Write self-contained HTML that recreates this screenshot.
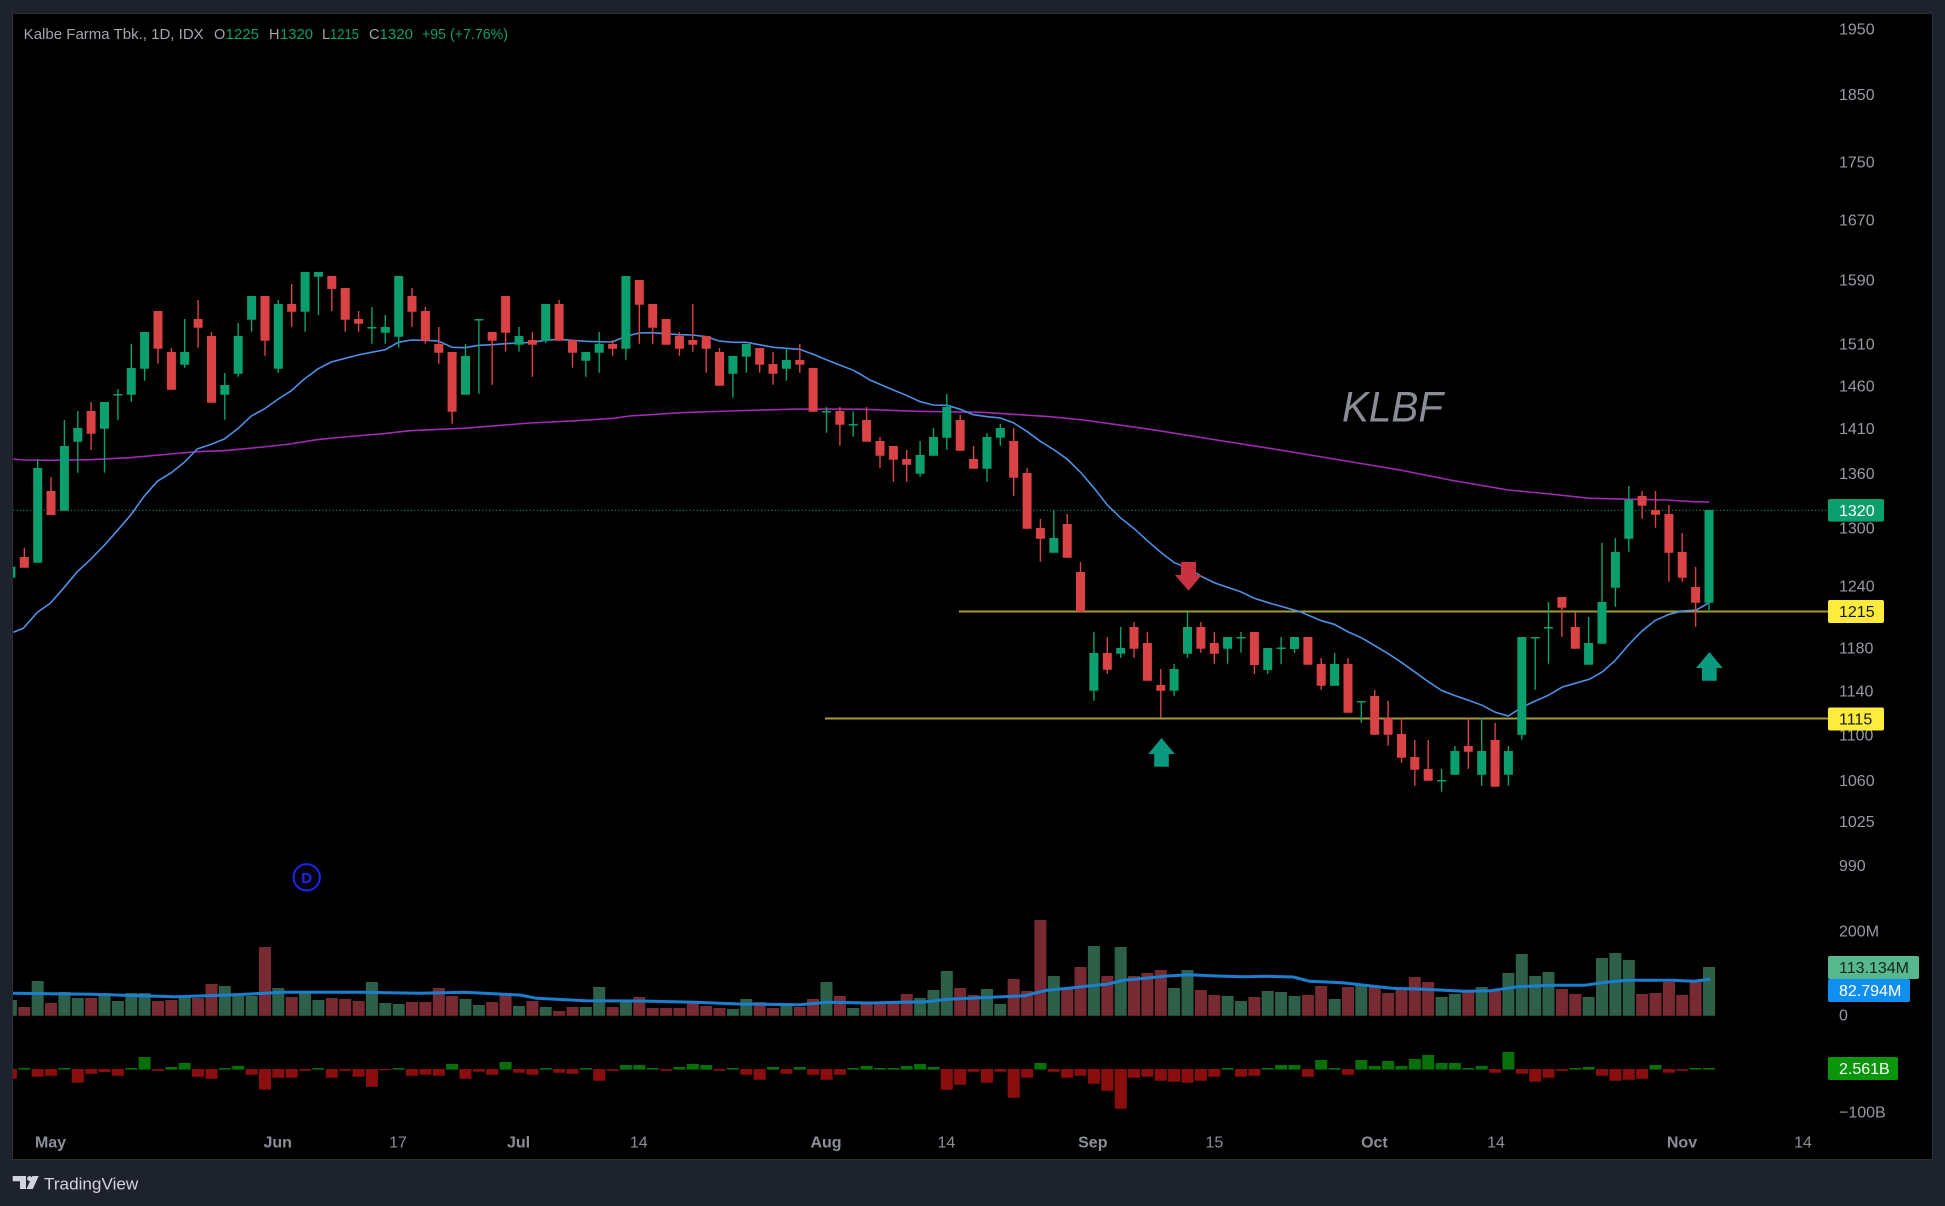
<!DOCTYPE html>
<html><head><meta charset="utf-8"><style>
html,body{margin:0;padding:0;background:#1e222d;}
svg{display:block;}
text{font-family:"Liberation Sans",sans-serif;}
</style></head><body>
<svg width="1945" height="1206" viewBox="0 0 1945 1206" xmlns="http://www.w3.org/2000/svg">
<defs><clipPath id="cp"><rect x="13" y="14" width="1919" height="1145"/></clipPath></defs>
<rect x="0" y="0" width="1945" height="1206" fill="#1e222d"/>
<rect x="12.5" y="13.5" width="1920" height="1146" fill="#000" stroke="#2a2e39" stroke-width="1"/>

<!-- title -->
<g font-size="14.5" fill="#a3a6ad">
<text x="23.7" y="39" textLength="180" lengthAdjust="spacingAndGlyphs">Kalbe Farma Tbk., 1D, IDX</text>
<text x="214" y="39">O</text><text x="225.5" y="39" fill="#0b9e6e" textLength="33.5" lengthAdjust="spacingAndGlyphs">1225</text>
<text x="269" y="39">H</text><text x="280" y="39" fill="#0b9e6e" textLength="33" lengthAdjust="spacingAndGlyphs">1320</text>
<text x="322" y="39">L</text><text x="330" y="39" fill="#0b9e6e" textLength="29" lengthAdjust="spacingAndGlyphs">1215</text>
<text x="369" y="39">C</text><text x="379.5" y="39" fill="#0b9e6e" textLength="33.5" lengthAdjust="spacingAndGlyphs">1320</text>
<text x="422" y="39" fill="#0b9e6e" textLength="86" lengthAdjust="spacingAndGlyphs">+95 (+7.76%)</text>
</g>

<!-- watermark -->
<text x="1342" y="421.7" font-size="43" font-style="italic" fill="#8a8d96" textLength="101" lengthAdjust="spacingAndGlyphs">KLBF</text>

<g clip-path="url(#cp)">
<!-- 1320 dotted -->
<line x1="13" y1="510.3" x2="1828" y2="510.3" stroke="#0b9e6e" stroke-width="1" stroke-dasharray="1.2 2.2"/>
<!-- yellow lines -->
<line x1="959" y1="611.5" x2="1828" y2="611.5" stroke="#a59b2e" stroke-width="2"/>
<line x1="825" y1="718.5" x2="1828" y2="718.5" stroke="#a59b2e" stroke-width="2"/>

<!-- purple MA -->
<polyline fill="none" stroke="#a12ab5" stroke-width="1.6" points="13.3,459 23.3,460 53.3,460.3 90,459.7 130,457.7 170,454 196.7,451.7 223.3,450.7 263.3,447 290,444 316.7,439.7 343.3,437 383.3,433.7 410,430.7 440,429.3 463.3,428.3 530,423 576.7,420.7 613.3,418.3 630,416 680,412.7 730,411 796.7,409 860,409.2 916.7,411.3 983.3,412.3 1050,416.7 1083.3,420 1150,429.3 1216.7,440 1280,450 1340,460 1400,470 1450,480 1508.3,490 1550,494 1590,498.3 1633.3,499.3 1666.7,500 1693.3,501.7 1709.3,502"/>
<!-- blue MA -->
<polyline fill="none" stroke="#4f8fe6" stroke-width="1.6" points="13.3,632.3 23.3,628.3 37.3,612.3 50.3,603.3 64.3,587.3 77.3,571.7 90.3,559.7 104.3,545.3 117.3,530.7 131.3,514.3 144.3,496 157.3,481.3 171.3,472.7 184.3,462.3 197.3,449 211.3,444.3 224.3,439 238.3,428.3 251.3,416 264.3,409 278.3,399 291.3,390.7 304.3,379 318.3,368.7 331.3,362 345.3,358.3 358.3,355 371.3,352.3 385.3,349.7 398.3,342.3 411.3,340 425.3,340.3 438.3,341 452.3,347.3 465.3,347.7 478.3,345.3 492.3,344.7 505.3,343.7 518.3,343 532.3,342.3 545.3,340.3 559.3,339.3 572.3,340.3 585.3,341.3 599.3,341.7 612.3,342 626.3,336 639.3,333 652.3,332.7 666.3,333.7 679.3,334.7 692.3,335 706.3,336.7 719.3,341 733.3,342.3 746.3,342.3 759.3,344.7 773.3,347.3 786.3,348.3 799.3,349.3 813.3,354.3 826.3,359.7 840.3,365.3 853.3,370.3 860,374 870,380 893.3,390 906.3,395.3 920.3,401.7 933.3,405 947.3,405.3 960.3,409.3 973.3,414.7 987.3,416.7 1000.3,418 1013.3,422.7 1027.3,431.7 1040.3,441.3 1054.3,450 1067.3,459.3 1080.3,472 1094.3,488.3 1107.3,505 1120.3,517.7 1134.3,528.7 1147.3,540.7 1161.3,552.7 1174.3,562.7 1187.3,567.7 1201.3,576.3 1214.3,582.7 1227.3,587.3 1241.3,592 1254.3,598.3 1268.3,602.7 1280,606 1300,611.7 1321.3,620.7 1334.3,624.3 1348.3,632 1361.3,637.7 1375.3,646 1388.3,653.7 1401.3,662.3 1415.3,672.3 1428.3,681.7 1441.3,690.3 1455.3,695.7 1468.3,700.3 1482.3,705.3 1495.3,712.3 1508.3,716 1522.3,707 1535.3,701 1548.3,695.3 1562.3,687 1575.3,683.3 1589.3,679.3 1602.3,672 1615.3,660.3 1629.3,644 1642.3,630.7 1655.3,620.3 1669.3,614.3 1682.3,611 1696.3,610 1709.3,602.7"/>

<!-- green wicks -->
<path fill="none" stroke="#0b9e6e" stroke-width="1.4" d="M10.9 560V578M37.7 459.3V562.7M64.4 420V510.7M77.8 411V472.7M104.5 402V472.7M117.9 389V420M131.3 344V401.7M144.6 332V380.7M184.7 319V367.7M224.8 373V419.7M238.2 323V376.7M251.6 296V331.7M278.3 300V372.7M305.1 272V331.7M318.4 272V315M371.9 307V343.7M385.3 315V343.7M398.7 276V347.7M465.5 344V394.7M478.9 319.3V393.7M519 327V351.7M545.7 304V343.3M585.8 352V376.7M599.2 332V372.7M625.9 276V359.7M732.9 356V397.7M746.3 344V372.7M786.4 348V380.7M826.5 407V432.7M853.2 411V436.7M920.1 441V476.7M933.5 428V455.7M946.8 394V449.7M987 433V481.7M1000.3 424V445.7M1053.8 510V552.7M1093.9 632V700.7M1120.7 627V657.7M1174.1 664V695.7M1187.5 612V657.7M1227.6 637V663.7M1241 632V652.7M1267.7 648V674M1281.1 637V664M1294.5 637V653M1334.6 653V685.7M1361.3 701V722.7M1441.6 769V791.7M1454.9 746V774.7M1481.7 718V785.7M1508.4 746V785.7M1521.8 637V739.7M1535.2 637V689.7M1548.5 602V663.7M1588.6 617V664.7M1602 543V643.7M1615.4 538V606.7M1628.8 486V551.7M1709 510V611.7"/>
<!-- green bodies -->
<path fill="#0b9e6e" d="M6.4 566.7h9V577.7h-9zM33.2 468h9V562.7h-9zM59.9 446h9V510.7h-9zM73.3 428h9V441.7h-9zM100 402h9V428.7h-9zM113.4 394h9V395.5h-9zM126.8 368h9V394.7h-9zM140.1 332h9V368.7h-9zM180.2 352h9V364.7h-9zM220.3 385h9V394.7h-9zM233.7 336h9V373.7h-9zM247.1 296h9V319.7h-9zM273.8 304h9V368.7h-9zM300.6 272h9V311.7h-9zM313.9 272h9V276.7h-9zM367.4 327h9V328.5h-9zM380.8 327h9V332.7h-9zM394.2 276h9V336.7h-9zM461 356h9V394.7h-9zM474.4 319h9V320.5h-9zM514.5 336h9V344.7h-9zM541.2 304h9V340.7h-9zM581.3 352h9V360.7h-9zM594.7 344h9V352.7h-9zM621.4 276h9V348.7h-9zM728.4 356h9V373.7h-9zM741.8 344h9V356.7h-9zM781.9 360h9V368.7h-9zM822 411h9V412.5h-9zM848.7 424h9V425.5h-9zM915.6 455h9V473.7h-9zM929 437h9V455.7h-9zM942.3 407h9V437.7h-9zM982.5 437h9V468.7h-9zM995.8 428h9V437.7h-9zM1049.3 538h9V552.7h-9zM1089.4 653h9V690.7h-9zM1116.2 648h9V653.7h-9zM1169.6 669h9V690.7h-9zM1183 627h9V653.7h-9zM1223.1 637h9V648.7h-9zM1236.5 637h9V638.5h-9zM1263.2 648h9V670h-9zM1276.6 647.5h9V649h-9zM1290 637h9V649h-9zM1330.1 664h9V685.7h-9zM1356.8 701h9V702.5h-9zM1437.1 780h9V781.5h-9zM1450.4 751h9V774.7h-9zM1477.2 751h9V774.7h-9zM1503.9 751h9V774.7h-9zM1517.3 637h9V734.7h-9zM1530.7 637h9V638.5h-9zM1544 627h9V628.5h-9zM1584.1 643h9V664.7h-9zM1597.5 602h9V643.7h-9zM1610.9 552h9V587.7h-9zM1624.3 500h9V538.7h-9zM1704.5 510h9V602.7h-9z"/>
<!-- red wicks -->
<path fill="none" stroke="#d94346" stroke-width="1.4" d="M24.3 547.7V567.7M51 477V515M91.1 402V450M158 311V363.7M171.4 348V389.7M198.1 300V347.7M211.5 332V402.7M265 296V355.7M291.7 284V326.7M331.8 276V311M345.2 288V331.7M358.6 311V331.7M412 288V326.7M425.4 307V343.7M438.8 327V363.7M452.1 352V423.7M492.2 332V384.7M505.6 296V351.7M532.4 332V376.7M559.1 300V340.7M572.5 340V367.7M612.6 340V355.7M639.3 280V343.7M652.7 304V343.7M666.1 319V344.7M679.4 332V355.7M692.8 304V351.7M706.2 336V372.7M719.5 348V385.7M759.7 348V372.7M773 352V384.7M799.8 344V372.7M813.1 368V411.7M839.9 407V445.7M866.6 407V441.7M880 437V468M893.4 446V481.7M906.7 450V481.7M960.2 415V450.7M973.6 446V468.7M1013.7 428V495.7M1027.1 468V528.7M1040.4 519V561.7M1067.2 514V557.7M1080.5 562V611.7M1107.3 637V673.7M1134 622V657.7M1147.4 632V680.7M1160.8 669V717.7M1200.9 622V652.7M1214.3 632V663.7M1254.4 632V674M1307.9 637V664.7M1321.2 658V689.7M1348 658V712.7M1374.7 690V734.7M1388.1 701V745.7M1401.5 718V762.7M1414.8 740V785.7M1428.2 740V780.7M1468.3 718V768.7M1495.1 723V786.7M1561.9 597V636.7M1575.3 612V648.7M1642.1 491V518.7M1655.5 491V527.7M1668.9 505V581.7M1682.2 533V581.7M1695.6 567V626.7"/>
<!-- red bodies -->
<path fill="#d94346" d="M19.8 557h9V567.7h-9zM46.5 491h9V515h-9zM86.6 411h9V433.7h-9zM153.5 311h9V348.7h-9zM166.9 352h9V389.7h-9zM193.6 319h9V327.7h-9zM207 336h9V402.7h-9zM260.5 296h9V340.7h-9zM287.2 304h9V311.7h-9zM327.3 276h9V289h-9zM340.7 288h9V319.7h-9zM354.1 319h9V323.7h-9zM407.5 296h9V311.7h-9zM420.9 311h9V340.7h-9zM434.3 344h9V352.7h-9zM447.6 352h9V411.7h-9zM487.7 332h9V340.7h-9zM501.1 296h9V332.7h-9zM527.9 340h9V344.7h-9zM554.6 304h9V340.7h-9zM568 340h9V352.7h-9zM608.1 344h9V348.7h-9zM634.8 280h9V304.7h-9zM648.2 304h9V327.7h-9zM661.6 319h9V344.7h-9zM674.9 336h9V348.7h-9zM688.3 340h9V344.7h-9zM701.7 336h9V348.7h-9zM715 352h9V385.7h-9zM755.2 348h9V364.7h-9zM768.5 364h9V373.7h-9zM795.3 360h9V364.7h-9zM808.6 368h9V411.7h-9zM835.4 411h9V424.7h-9zM862.1 420h9V441.7h-9zM875.5 441h9V455.7h-9zM888.9 446h9V459.7h-9zM902.2 459h9V464.7h-9zM955.7 420h9V450.7h-9zM969.1 459h9V468.7h-9zM1009.2 441h9V477.7h-9zM1022.6 473h9V528.7h-9zM1035.9 528h9V538.7h-9zM1062.7 524h9V557.7h-9zM1076 572h9V611.7h-9zM1102.8 653h9V669.7h-9zM1129.5 627h9V648.7h-9zM1142.9 643h9V680.7h-9zM1156.3 685h9V690.7h-9zM1196.4 627h9V648.7h-9zM1209.8 643h9V653.7h-9zM1249.9 632h9V665h-9zM1303.4 637h9V664.7h-9zM1316.7 664h9V685.7h-9zM1343.5 664h9V712.7h-9zM1370.2 696h9V734.7h-9zM1383.6 718h9V734.7h-9zM1397 734h9V757.7h-9zM1410.3 757h9V769.7h-9zM1423.7 769h9V780.7h-9zM1463.8 746h9V751.7h-9zM1490.6 740h9V786.7h-9zM1557.4 597h9V607.7h-9zM1570.8 627h9V648.7h-9zM1637.6 496h9V505.7h-9zM1651 510h9V514.7h-9zM1664.4 514h9V552.7h-9zM1677.7 552h9V577.7h-9zM1691.1 587h9V602.7h-9z"/>

<!-- arrows -->
<path fill="#c8313f" d="M1181 562H1196V575H1201.7L1188.5 590.7L1175 575H1181Z"/>
<path fill="#0b9a80" d="M1709.4 652L1722.7 668H1716.7V680.7H1702V668H1696Z"/>
<path fill="#0b9a80" d="M1161.5 738L1174.8 754H1168.8V766.7H1154.2V754H1148.2Z"/>

<!-- D marker -->
<circle cx="306.7" cy="877.3" r="13.2" fill="#05050f" stroke="#2222f0" stroke-width="2"/>
<text x="306.7" y="883" font-size="15" font-weight="bold" fill="#2424f2" text-anchor="middle">D</text>

<!-- volume green -->
<path fill="#2e5f48" d="M4.9 1000h12V1015.7h-12zM31.7 981h12V1015.7h-12zM58.4 992h12V1015.7h-12zM71.8 998h12V1015.7h-12zM98.5 993h12V1015.7h-12zM111.9 1001h12V1015.7h-12zM125.3 993h12V1015.7h-12zM138.6 993h12V1015.7h-12zM178.7 996h12V1015.7h-12zM218.8 986h12V1015.7h-12zM232.2 996h12V1015.7h-12zM245.6 996h12V1015.7h-12zM272.3 988h12V1015.7h-12zM299.1 991h12V1015.7h-12zM312.4 1000h12V1015.7h-12zM365.9 982h12V1015.7h-12zM379.3 1003h12V1015.7h-12zM392.7 1004h12V1015.7h-12zM459.5 999h12V1015.7h-12zM472.9 1005h12V1015.7h-12zM513 1006h12V1015.7h-12zM539.7 1007h12V1015.7h-12zM579.8 1007h12V1015.7h-12zM593.2 987h12V1015.7h-12zM619.9 1001h12V1015.7h-12zM726.9 1009h12V1015.7h-12zM740.3 999h12V1015.7h-12zM780.4 1005h12V1015.7h-12zM820.5 982h12V1015.7h-12zM847.2 1008h12V1015.7h-12zM914.1 998h12V1015.7h-12zM927.5 990h12V1015.7h-12zM940.8 971h12V1015.7h-12zM981 989h12V1015.7h-12zM994.3 1004h12V1015.7h-12zM1047.8 976h12V1015.7h-12zM1087.9 946h12V1015.7h-12zM1114.7 947h12V1015.7h-12zM1168.1 988h12V1015.7h-12zM1181.5 970h12V1015.7h-12zM1221.6 996h12V1015.7h-12zM1235 1001h12V1015.7h-12zM1261.7 991h12V1015.7h-12zM1275.1 992h12V1015.7h-12zM1288.5 996h12V1015.7h-12zM1328.6 999h12V1015.7h-12zM1355.3 984h12V1015.7h-12zM1435.6 997h12V1015.7h-12zM1448.9 994h12V1015.7h-12zM1475.7 987h12V1015.7h-12zM1502.4 973h12V1015.7h-12zM1515.8 954h12V1015.7h-12zM1529.2 976h12V1015.7h-12zM1542.5 972h12V1015.7h-12zM1582.6 997h12V1015.7h-12zM1596 958h12V1015.7h-12zM1609.4 953h12V1015.7h-12zM1622.8 960h12V1015.7h-12zM1703 967h12V1015.7h-12z"/>
<!-- volume red -->
<path fill="#782a32" d="M18.3 1007h12V1015.7h-12zM45 1003h12V1015.7h-12zM85.1 998h12V1015.7h-12zM152 1001h12V1015.7h-12zM165.4 1000h12V1015.7h-12zM192.1 998h12V1015.7h-12zM205.5 984h12V1015.7h-12zM259 947h12V1015.7h-12zM285.7 997h12V1015.7h-12zM325.8 998h12V1015.7h-12zM339.2 999h12V1015.7h-12zM352.6 1001h12V1015.7h-12zM406 1002h12V1015.7h-12zM419.4 1002h12V1015.7h-12zM432.8 988h12V1015.7h-12zM446.1 996h12V1015.7h-12zM486.2 1002h12V1015.7h-12zM499.6 995h12V1015.7h-12zM526.4 1001h12V1015.7h-12zM553.1 1011h12V1015.7h-12zM566.5 1007h12V1015.7h-12zM606.6 1007h12V1015.7h-12zM633.3 997h12V1015.7h-12zM646.7 1008h12V1015.7h-12zM660.1 1008h12V1015.7h-12zM673.4 1008h12V1015.7h-12zM686.8 1002h12V1015.7h-12zM700.2 1006h12V1015.7h-12zM713.5 1008h12V1015.7h-12zM753.7 1002h12V1015.7h-12zM767 1008h12V1015.7h-12zM793.8 1007h12V1015.7h-12zM807.1 999h12V1015.7h-12zM833.9 996h12V1015.7h-12zM860.6 1004h12V1015.7h-12zM874 1004h12V1015.7h-12zM887.4 1001h12V1015.7h-12zM900.7 994h12V1015.7h-12zM954.2 988h12V1015.7h-12zM967.6 995h12V1015.7h-12zM1007.7 979h12V1015.7h-12zM1021.1 991h12V1015.7h-12zM1034.4 920h12V1015.7h-12zM1061.2 988h12V1015.7h-12zM1074.5 967h12V1015.7h-12zM1101.3 976h12V1015.7h-12zM1128 976h12V1015.7h-12zM1141.4 973h12V1015.7h-12zM1154.8 970h12V1015.7h-12zM1194.9 990h12V1015.7h-12zM1208.3 995h12V1015.7h-12zM1248.4 997h12V1015.7h-12zM1301.9 995h12V1015.7h-12zM1315.2 986h12V1015.7h-12zM1342 987h12V1015.7h-12zM1368.7 986h12V1015.7h-12zM1382.1 993h12V1015.7h-12zM1395.5 988h12V1015.7h-12zM1408.8 977h12V1015.7h-12zM1422.2 982h12V1015.7h-12zM1462.3 990h12V1015.7h-12zM1489.1 991h12V1015.7h-12zM1555.9 989h12V1015.7h-12zM1569.3 994h12V1015.7h-12zM1636.1 994h12V1015.7h-12zM1649.5 993h12V1015.7h-12zM1662.9 982h12V1015.7h-12zM1676.2 995h12V1015.7h-12zM1689.6 982h12V1015.7h-12z"/>
<!-- volume MA -->
<polyline fill="none" stroke="#1b7fd1" stroke-width="3" stroke-linejoin="round" points="13,993.3 92,994.3 175,996.7 229,995 284,992.3 366.5,992.3 421,993.3 465,992.3 503.6,994.3 520,995 536.5,998.3 586,1000.7 641,1001 695.6,1002.3 739.4,1004 799.8,1004.7 827,1002.3 870,1003 925.8,1001.7 947.8,999.3 991.6,997.3 1024.5,995.7 1046.5,990.3 1068.4,988.3 1090.3,985.7 1106.8,984.3 1123.3,980.3 1145.2,978.3 1167.1,976 1189.1,974.7 1216.5,976 1243.9,976.7 1265.9,976.3 1293.3,977 1309.7,981.3 1342.6,982.7 1364.6,985.3 1392,988.3 1424.9,989.3 1463.3,991.3 1490.7,990.7 1518.1,986.7 1551,985.3 1584,985.3 1605.9,982.3 1627.8,980.3 1671.7,980.3 1693.7,981.3 1710.1,979.3"/>

<!-- flow green -->
<path fill="#087008" d="M18.3 1068h12V1069.6h-12zM58.4 1068h12V1069.6h-12zM125.3 1068h12V1069.6h-12zM138.6 1057h12V1069.6h-12zM165.4 1067h12V1069.6h-12zM178.7 1063h12V1069.6h-12zM218.8 1068h12V1069.6h-12zM232.2 1066h12V1069.6h-12zM312.4 1068h12V1069.6h-12zM392.7 1068h12V1069.6h-12zM446.1 1064h12V1069.6h-12zM499.6 1062h12V1069.6h-12zM539.7 1068h12V1069.6h-12zM579.8 1068h12V1069.6h-12zM619.9 1065h12V1069.6h-12zM633.3 1065h12V1069.6h-12zM646.7 1068h12V1069.6h-12zM673.4 1067h12V1069.6h-12zM686.8 1064h12V1069.6h-12zM700.2 1065h12V1069.6h-12zM726.9 1068h12V1069.6h-12zM767 1067h12V1069.6h-12zM793.8 1067h12V1069.6h-12zM847.2 1068h12V1069.6h-12zM860.6 1066h12V1069.6h-12zM874 1068h12V1069.6h-12zM887.4 1068h12V1069.6h-12zM900.7 1066h12V1069.6h-12zM914.1 1064h12V1069.6h-12zM927.5 1067h12V1069.6h-12zM1034.4 1063h12V1069.6h-12zM1221.6 1068h12V1069.6h-12zM1261.7 1068h12V1069.6h-12zM1275.1 1065h12V1069.6h-12zM1288.5 1065h12V1069.6h-12zM1315.2 1060h12V1069.6h-12zM1328.6 1068h12V1069.6h-12zM1355.3 1060h12V1069.6h-12zM1368.7 1066h12V1069.6h-12zM1382.1 1061h12V1069.6h-12zM1395.5 1066h12V1069.6h-12zM1408.8 1059h12V1069.6h-12zM1422.2 1055h12V1069.6h-12zM1435.6 1063h12V1069.6h-12zM1448.9 1063h12V1069.6h-12zM1462.3 1068h12V1069.6h-12zM1475.7 1066h12V1069.6h-12zM1502.4 1052h12V1069.6h-12zM1569.3 1068h12V1069.6h-12zM1582.6 1067h12V1069.6h-12zM1649.5 1065h12V1069.6h-12zM1689.6 1068h12V1069.6h-12zM1703 1068h12V1069.6h-12z"/>
<!-- flow red -->
<path fill="#8a0e0e" d="M4.9 1069h12V1078.7h-12zM31.7 1069h12V1076.7h-12zM45 1069h12V1075.7h-12zM71.8 1069h12V1082.7h-12zM85.1 1069h12V1073.7h-12zM98.5 1069h12V1072h-12zM111.9 1069h12V1075.7h-12zM152 1069h12V1070.7h-12zM192.1 1069h12V1076.7h-12zM205.5 1069h12V1078.7h-12zM245.6 1069h12V1074.7h-12zM259 1069h12V1089.7h-12zM272.3 1069h12V1077.7h-12zM285.7 1069h12V1077.7h-12zM299.1 1069h12V1070.7h-12zM325.8 1069h12V1077.7h-12zM339.2 1069h12V1070.7h-12zM352.6 1069h12V1076.7h-12zM365.9 1069h12V1086.7h-12zM379.3 1069h12V1070.2h-12zM406 1069h12V1075.7h-12zM419.4 1069h12V1074.7h-12zM432.8 1069h12V1075.7h-12zM459.5 1069h12V1078.7h-12zM472.9 1069h12V1071.7h-12zM486.2 1069h12V1074.7h-12zM513 1069h12V1072.7h-12zM526.4 1069h12V1074.7h-12zM553.1 1069h12V1072.7h-12zM566.5 1069h12V1073.7h-12zM593.2 1069h12V1080.7h-12zM606.6 1069h12V1070.7h-12zM660.1 1069h12V1070.7h-12zM713.5 1069h12V1070.7h-12zM740.3 1069h12V1074.7h-12zM753.7 1069h12V1079.7h-12zM780.4 1069h12V1073.7h-12zM807.1 1069h12V1074.7h-12zM820.5 1069h12V1079.7h-12zM833.9 1069h12V1074.7h-12zM940.8 1069h12V1089.7h-12zM954.2 1069h12V1084.7h-12zM967.6 1069h12V1071.7h-12zM981 1069h12V1082.7h-12zM994.3 1069h12V1071.7h-12zM1007.7 1069h12V1097.7h-12zM1021.1 1069h12V1077.7h-12zM1047.8 1069h12V1071.7h-12zM1061.2 1069h12V1077.7h-12zM1074.5 1069h12V1075.7h-12zM1087.9 1069h12V1083.7h-12zM1101.3 1069h12V1090.7h-12zM1114.7 1069h12V1108.7h-12zM1128 1069h12V1077.7h-12zM1141.4 1069h12V1076.7h-12zM1154.8 1069h12V1080.7h-12zM1168.1 1069h12V1081.7h-12zM1181.5 1069h12V1082.7h-12zM1194.9 1069h12V1080.7h-12zM1208.3 1069h12V1076.7h-12zM1235 1069h12V1076.7h-12zM1248.4 1069h12V1075.7h-12zM1301.9 1069h12V1076.7h-12zM1342 1069h12V1074.7h-12zM1489.1 1069h12V1072.7h-12zM1515.8 1069h12V1073.7h-12zM1529.2 1069h12V1081.7h-12zM1542.5 1069h12V1077.7h-12zM1555.9 1069h12V1070.7h-12zM1596 1069h12V1075.7h-12zM1609.4 1069h12V1080.7h-12zM1622.8 1069h12V1079.7h-12zM1636.1 1069h12V1078.7h-12zM1662.9 1069h12V1072.7h-12zM1676.2 1069h12V1070.7h-12z"/>
</g>

<!-- price axis -->
<g font-size="16" fill="#979aa3">
<text x="1839" y="34.3">1950</text>
<text x="1839" y="100.1">1850</text>
<text x="1839" y="167.5">1750</text>
<text x="1839" y="225.6">1670</text>
<text x="1839" y="285.6">1590</text>
<text x="1839" y="349.3">1510</text>
<text x="1839" y="391.4">1460</text>
<text x="1839" y="434.2">1410</text>
<text x="1839" y="479">1360</text>
<text x="1839" y="533.6">1300</text>
<text x="1839" y="591.6">1240</text>
<text x="1839" y="653.6">1180</text>
<text x="1839" y="696.6">1140</text>
<text x="1839" y="740.6">1100</text>
<text x="1839" y="786.1">1060</text>
<text x="1839" y="827.1">1025</text>
<text x="1839" y="871.2">990</text>
<text x="1839" y="936.6">200M</text>
<text x="1839" y="1020.4">0</text>
<text x="1839" y="1117.6">−100B</text>
</g>
<g font-size="16">
<rect x="1828" y="499" width="56" height="22.6" rx="2" fill="#0b9e6e"/>
<text x="1839" y="516" fill="#ffffff">1320</text>
<rect x="1828" y="600" width="56" height="23" rx="2" fill="#ffeb3b"/>
<text x="1839" y="617.2" fill="#131722">1215</text>
<rect x="1828" y="707.5" width="56" height="23" rx="2" fill="#ffeb3b"/>
<text x="1839" y="724.7" fill="#131722">1115</text>
<rect x="1828" y="956" width="91" height="23" rx="2" fill="#56b88c"/>
<text x="1839" y="973.2" fill="#15241c">113.134M</text>
<rect x="1828" y="979" width="82" height="23" rx="2" fill="#0f8ff0"/>
<text x="1839" y="996.2" fill="#ffffff">82.794M</text>
<rect x="1828" y="1057" width="70" height="23" rx="2" fill="#0a960a"/>
<text x="1839" y="1074.2" fill="#ffffff">2.561B</text>
</g>

<!-- time axis -->
<g font-size="16" fill="#8c8f98" text-anchor="middle">
<text x="50.5" y="1147.7" font-weight="bold">May</text>
<text x="277.7" y="1147.7" font-weight="bold">Jun</text>
<text x="398" y="1147.7">17</text>
<text x="518.5" y="1147.7" font-weight="bold">Jul</text>
<text x="638.8" y="1147.7">14</text>
<text x="826" y="1147.7" font-weight="bold">Aug</text>
<text x="946.4" y="1147.7">14</text>
<text x="1092.8" y="1147.7" font-weight="bold">Sep</text>
<text x="1214.4" y="1147.7">15</text>
<text x="1374.4" y="1147.7" font-weight="bold">Oct</text>
<text x="1496" y="1147.7">14</text>
<text x="1682" y="1147.7" font-weight="bold">Nov</text>
<text x="1803" y="1147.7">14</text>
</g>

<!-- TradingView logo -->
<path fill="#d1d4dc" d="M12.7 1176H26V1189H20V1181.2H12.7Z"/>
<circle cx="29.6" cy="1178.6" r="2.5" fill="#d1d4dc"/>
<path fill="#d1d4dc" d="M32.4 1176H38.7L32.8 1189H26.5Z"/>
<text x="44" y="1189.3" font-size="17" fill="#d1d4dc" textLength="94.3" lengthAdjust="spacingAndGlyphs">TradingView</text>
</svg>
</body></html>
